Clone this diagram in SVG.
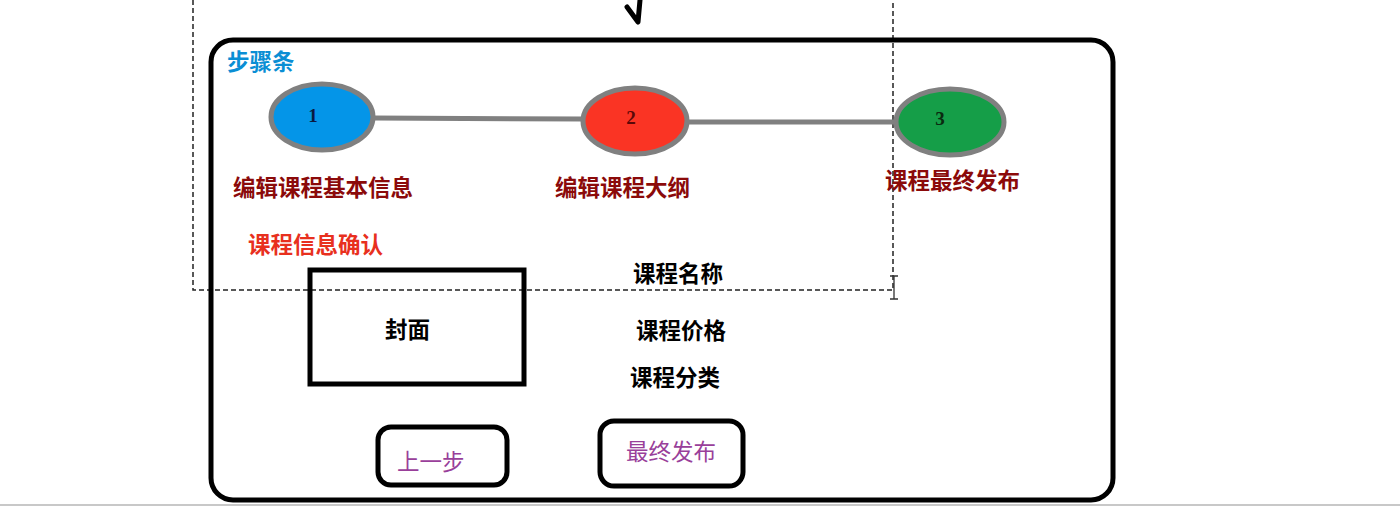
<svg xmlns="http://www.w3.org/2000/svg" width="1400" height="508" viewBox="0 0 1400 508">
<style>
text{font-family:"Noto Sans CJK SC","Liberation Sans",sans-serif;font-size:22.5px;dominant-baseline:central}
.b{font-weight:bold}
.step{fill:#8b0a0a;font-weight:bold}
.num{font-family:"Liberation Serif",serif;font-weight:bold;font-size:19px;text-anchor:middle}
.dot{stroke:#808080;stroke-width:5}
.box{fill:none;stroke:#000;stroke-width:5}
.btn{fill:#993f9a}
</style>
<rect width="1400" height="508" fill="#fff"/>
<line x1="0" y1="505" x2="1400" y2="505" stroke="#c8c8c8" stroke-width="2"/>
<g id="selection" fill="none" stroke="#222" stroke-width="1.5" stroke-dasharray="5 3">
<path d="M193,0 V290 H893 V0"/>
</g>
<g id="cursor" stroke="#333" stroke-width="1.3" fill="none">
<path d="M894,276 V299 M890,276 H898 M890,299 H898"/>
</g>
<path id="tick" d="M627,7 L638,22 L640,0" fill="none" stroke="#000" stroke-width="5" stroke-linecap="round" stroke-linejoin="round"/>
<g id="frame"><rect x="211" y="40" width="902" height="460" rx="22" class="box"/></g>
<g id="title"><text x="227" y="60" fill="#0a8ed4" class="b">步骤条</text></g>
<g id="connectors" stroke="#808080" stroke-width="5">
<line x1="374" y1="118" x2="584" y2="119"/>
<line x1="687" y1="122" x2="896" y2="122"/>
</g>
<g id="step1">
<ellipse cx="322" cy="117" rx="51" ry="33" fill="#0495e8" class="dot"/>
<text x="313" y="115" class="num" fill="#0a1a40">1</text>
<text x="233" y="186" class="step">编辑课程基本信息</text>
</g>
<g id="step2">
<ellipse cx="635" cy="121" rx="52" ry="33" fill="#fa3424" class="dot"/>
<text x="631" y="117" class="num" fill="#5a0808">2</text>
<text x="555" y="186" class="step">编辑课程大纲</text>
</g>
<g id="step3">
<ellipse cx="950" cy="122" rx="54" ry="33" fill="#159e48" class="dot"/>
<text x="940" y="118" class="num" fill="#0a2a10">3</text>
<text x="885" y="179" class="step">课程最终发布</text>
</g>
<g id="confirm"><text x="248" y="243" fill="#e8301e" class="b">课程信息确认</text></g>
<g id="cover">
<rect x="310" y="270" width="214" height="114" class="box"/>
<text x="385" y="328" class="b">封面</text>
</g>
<g id="fields">
<text x="633" y="272" class="b">课程名称</text>
<text x="636" y="329" class="b">课程价格</text>
<text x="630" y="376" class="b">课程分类</text>
</g>
<g id="prev">
<rect x="378" y="427" width="129" height="58" rx="13" class="box"/>
<text x="397" y="460" class="btn">上一步</text>
</g>
<g id="publish">
<rect x="600" y="421" width="143" height="65" rx="14" class="box"/>
<text x="626" y="450" class="btn">最终发布</text>
</g>
</svg>
